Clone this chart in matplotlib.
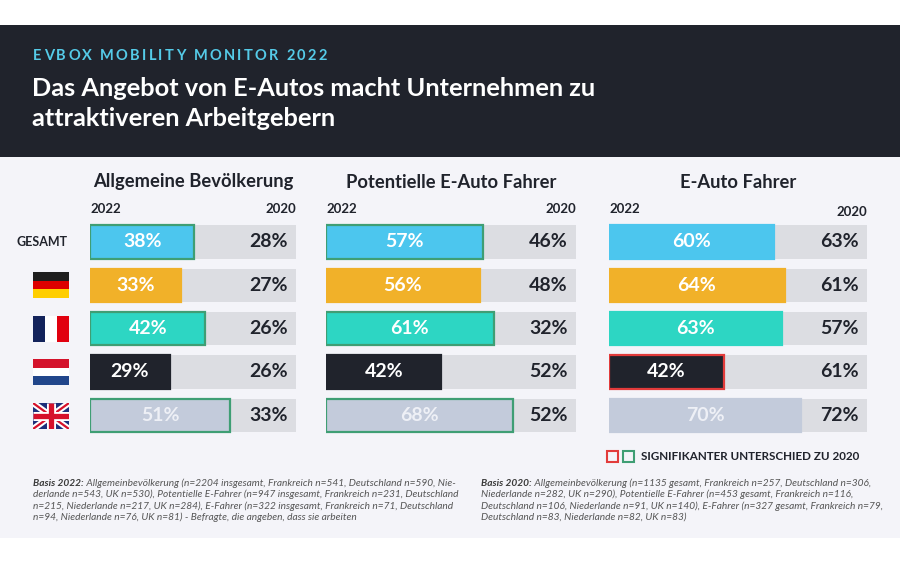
import matplotlib
matplotlib.use("Agg")
import matplotlib.pyplot as plt
from matplotlib.patches import Rectangle

plt.rcParams['font.family'] = ['Lato', 'DejaVu Sans']

# ---- Daten ----
row_labels = ["GESAMT", "DE", "FR", "NL", "UK"]
panel_titles = ["Allgemeine Bevölkerung", "Potentielle E-Auto Fahrer", "E-Auto Fahrer"]
year_new, year_old = "2022", "2020"

allg_2022 = [38, 33, 42, 29, 51]
allg_2020 = [28, 27, 26, 26, 33]
pot_2022 = [57, 56, 61, 42, 68]
pot_2020 = [46, 48, 32, 52, 52]
ev_2022 = [60, 64, 63, 42, 70]
ev_2020 = [63, 61, 57, 61, 72]

# signifikanter Unterschied zu 2020: "up" = gruen, "down" = rot
allg_sig = ["up", None, "up", None, "up"]
pot_sig = ["up", None, "up", None, "up"]
ev_sig = [None, None, None, "down", None]

axis_max = [75, 91, 94]

header_kicker = "EVBOX MOBILITY MONITOR 2022"
header_title = ["Das Angebot von E-Autos macht Unternehmen zu", "attraktiveren Arbeitgebern"]
legend_text = "SIGNIFIKANTER UNTERSCHIED ZU 2020"

foot_left = [
    ("Basis 2022:", " Allgemeinbevölkerung (n=2204 insgesamt, Frankreich n=541, Deutschland n=590, Nie-"),
    ("", "derlande n=543, UK n=530), Potentielle E-Fahrer (n=947 insgesamt, Frankreich n=231, Deutschland"),
    ("", "n=215, Niederlande n=217, UK n=284), E-Fahrer (n=322 insgesamt, Frankreich n=71, Deutschland"),
    ("", "n=94, Niederlande n=76, UK n=81) - Befragte, die angeben, dass sie arbeiten"),
]
foot_right = [
    ("Basis 2020:", " Allgemeinbevölkerung (n=1135 gesamt, Frankreich n=257, Deutschland n=306,"),
    ("", "Niederlande n=282, UK n=290), Potentielle E-Fahrer (n=453 gesamt, Frankreich n=116,"),
    ("", "Deutschland n=106, Niederlande n=91, UK n=140), E-Fahrer (n=327 gesamt, Frankreich n=79,"),
    ("", "Deutschland n=83, Niederlande n=82, UK n=83)"),
]

# ---- Farben ----
DARK = "#20232c"
BG = "#f4f4f9"
GREY = "#dcdde2"
row_colors = ["#4cc6ee", "#f1b129", "#2dd6c3", "#20232c", "#c3cbdb"]
label_colors = ["white", "white", "white", "white", "#eef0f6"]
sig_colors = {"up": "#3f9e74", "down": "#e23b3b"}

W, H = 900, 563
fig = plt.figure(figsize=(9, 5.63), dpi=100, facecolor="white")
bg = fig.add_axes([0, 0, 1, 1], zorder=0)
bg.set_xlim(0, W)
bg.set_ylim(H, 0)
bg.axis("off")
renderer = fig.canvas.get_renderer()

bg.add_patch(Rectangle((0, 25), W, 132, color=DARK, lw=0))
bg.add_patch(Rectangle((0, 157), W, 381, color=BG, lw=0))


def spaced(x, y, s, gap, **kw):
    for ch in s:
        if ch == " ":
            x += 3.5 + gap
            continue
        t = bg.text(x, y, ch, **kw)
        x += t.get_window_extent(renderer).width + gap


spaced(33, 56, header_kicker, 2.3, color="#55cbe8", fontsize=10.5, va="center", weight="bold")
for i, line in enumerate(header_title):
    bg.text(32, 88 + 30 * i, line, color="white", fontsize=18.3, va="center", weight="bold")

# ---- Zeilenbeschriftungen und Flaggen ----
row_y = [242, 285, 329, 372, 416]
bg.text(42, row_y[0], row_labels[0], ha="center", va="center", fontsize=9, color=DARK, weight="bold")

fx0, fw, fh = 33, 36, 26


def flag_stripes(y, colors, vertical):
    n = len(colors)
    for k, c in enumerate(colors):
        if vertical:
            bg.add_patch(Rectangle((fx0 + k * fw / n, y - fh / 2), fw / n, fh, color=c, lw=0))
        else:
            bg.add_patch(Rectangle((fx0, y - fh / 2 + k * fh / n), fw, fh / n, color=c, lw=0))


flag_stripes(row_y[1], ["#1f1f1f", "#dd0000", "#ffce00"], vertical=False)
flag_stripes(row_y[2], ["#13235b", "white", "#e1000f"], vertical=True)
flag_stripes(row_y[3], ["#d4132b", "white", "#21468b"], vertical=False)

# Union Jack
uy = row_y[4]
clip = Rectangle((fx0, uy - fh / 2), fw, fh, color="#1d2f7a", lw=0)
bg.add_patch(clip)
x1, x2, y1, y2 = fx0, fx0 + fw, uy - fh / 2, uy + fh / 2
for lw, c in [(4.5, "white"), (1.6, "#d6112b")]:
    for xs, ys in [([x1, x2], [y1, y2]), ([x1, x2], [y2, y1])]:
        ln, = bg.plot(xs, ys, color=c, lw=lw, solid_capstyle="butt")
        ln.set_clip_path(clip)
for lw, c in [(6.5, "white"), (3.8, "#d6112b")]:
    for xs, ys in [([x1, x2], [uy, uy]), ([fx0 + fw / 2] * 2, [y1, y2])]:
        ln, = bg.plot(xs, ys, color=c, lw=lw, solid_capstyle="butt")
        ln.set_clip_path(clip)

# ---- Panels ----
panel_px = [(90, 296), (326, 576), (609, 867)]
top_px, bot_px = 220.3, 437.0
data_2022 = [allg_2022, pot_2022, ev_2022]
data_2020 = [allg_2020, pot_2020, ev_2020]
data_sig = [allg_sig, pot_sig, ev_sig]
ypos = list(range(len(row_labels)))

for p, (L, R) in enumerate(panel_px):
    ax = fig.add_axes([L / W, 1 - bot_px / H, (R - L) / W, (bot_px - top_px) / H], zorder=1)
    ax.patch.set_alpha(0)
    ax.set_xlim(0, axis_max[p])
    ax.set_ylim(len(row_labels) - 0.5, -0.5)
    ax.axis("off")

    ax.barh(ypos, [axis_max[p]] * len(ypos), height=0.77, color=GREY, lw=0)
    edges = [sig_colors[s] if s else row_colors[i] for i, s in enumerate(data_sig[p])]
    ax.barh(ypos, data_2022[p], height=0.77, color=row_colors, edgecolor=edges, lw=1.6)

    for i, (v_new, v_old) in enumerate(zip(data_2022[p], data_2020[p])):
        ax.text(v_new / 2, i, f"{v_new}%", ha="center", va="center", color=label_colors[i],
                fontsize=14, weight="bold")
        ax.annotate(f"{v_old}%", (axis_max[p], i), xytext=(-6, 0), textcoords="offset points",
                    ha="right", va="center", color=DARK, fontsize=14, weight="bold")

    bg.text((L + R) / 2, 182, panel_titles[p], ha="center", va="center", fontsize=13.2,
            color=DARK, weight="bold")
    bg.text(L, 209, year_new, ha="left", va="center", fontsize=9.5, color=DARK, weight="bold")
    bg.text(R, 209 if p < 2 else 212, year_old, ha="right", va="center", fontsize=9.5,
            color=DARK, weight="bold")

# ---- Legende ----
bg.add_patch(Rectangle((606.5, 451), 11, 11, fill=False, ec=sig_colors["down"], lw=1.5))
bg.add_patch(Rectangle((622.5, 451), 11, 11, fill=False, ec=sig_colors["up"], lw=1.5))
bg.text(641, 456.5, legend_text, fontsize=8.4, color=DARK, va="center", weight="bold")

# ---- Fussnoten ----
for x0, block in [(33, foot_left), (481, foot_right)]:
    for k, (bold, rest) in enumerate(block):
        y = 483 + 11.4 * k
        x = x0
        if bold:
            t = bg.text(x, y, bold, fontsize=7.3, color="#3a3a3a", style="italic",
                        weight="bold", va="center")
            x += t.get_window_extent(renderer).width
        bg.text(x, y, rest, fontsize=7.3, color="#555555", style="italic", va="center")

fig.savefig("out.png", dpi=100, facecolor="white")
